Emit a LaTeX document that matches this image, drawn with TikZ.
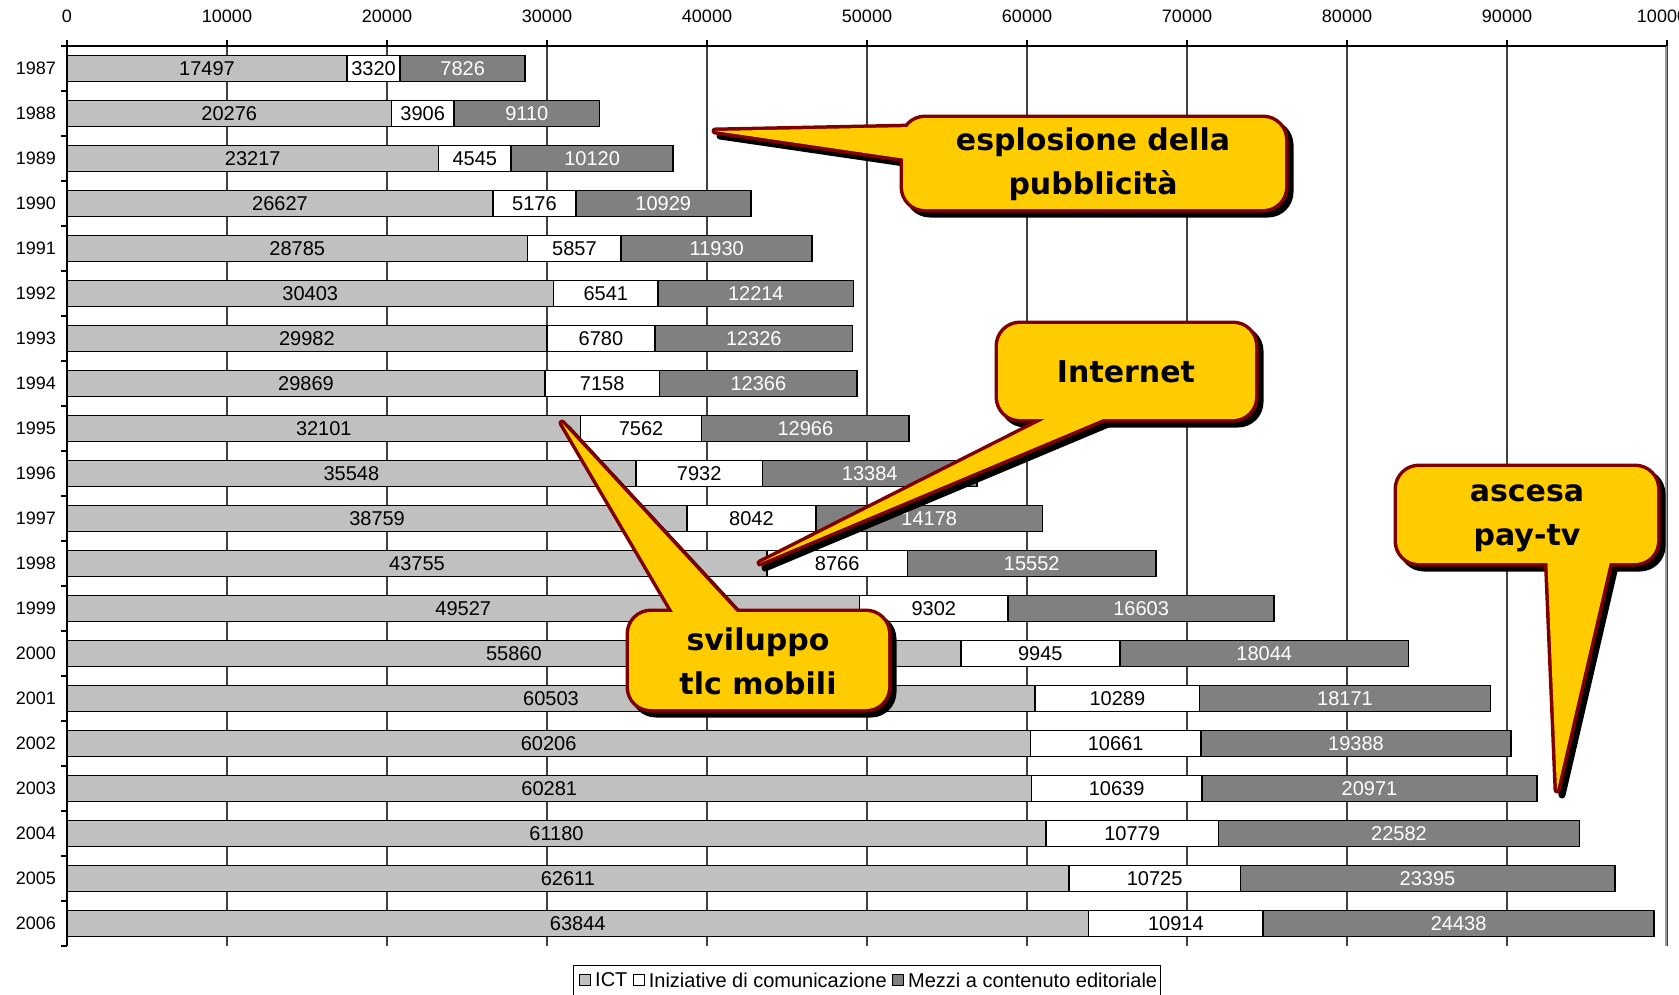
\documentclass[tikz,border=0pt]{standalone}
\usepackage{fontspec}
\setmainfont{Liberation Sans}
\newfontfamily\calloutfont{DejaVu Sans}
\usetikzlibrary{positioning}
\definecolor{ictgray}{HTML}{C0C0C0}
\definecolor{mezzigray}{HTML}{808080}
\definecolor{calloutyellow}{HTML}{FFCC00}
\definecolor{calloutred}{HTML}{800000}
\tikzset{
  segment/.style={draw=black, line width=1.6pt},
  ictseg/.style={segment, fill=ictgray},
  iniseg/.style={segment, fill=white},
  mezziseg/.style={segment, fill=mezzigray},
  barlabel/.style={inner sep=0pt, font=\fontsize{20}{22}\selectfont},
  axislabel/.style={inner sep=0pt, font=\fontsize{18}{20}\selectfont},
  legendlabel/.style={inner sep=0pt, font=\fontsize{20}{22}\selectfont},
  legendkey/.style={draw=black, line width=1pt, minimum size=11pt, inner sep=0pt},
  gridline/.style={draw=black!75, line width=1.2pt},
  axisline/.style={draw=black, line width=1.4pt},
  calloutshadow/.style={fill=black, draw=black, line width=7pt, line join=round},
  calloutedge/.style={draw=calloutred, line width=7pt, line join=round},
  calloutfill/.style={fill=calloutyellow},
  callouttext/.style={align=center, inner sep=0pt,
                      font=\calloutfont\fontsize{30}{44}\selectfont\bfseries}
}

\begin{document}
\begin{tikzpicture}[x=1pt, y=-1pt]
\clip (0,0) rectangle (1679,994);

% grid and axes
\foreach \k in {0,...,10}{
  \draw[gridline] (67+160*\k,46) -- (67+160*\k,946);
  \draw[axisline] (67+160*\k,40) -- (67+160*\k,46);
  \node[axislabel] (tick\k) at (67+160*\k,16) {\number\numexpr\k*10000\relax};
}
\draw[draw=black!40, line width=1.6pt] (1666,46) -- (1666,946);
\draw[axisline] (67,46) -- (1666,46);
\draw[axisline] (67,46) -- (67,946);
\foreach \k in {0,...,20}
  \draw[axisline] (61,46+45*\k) -- (67,46+45*\k);

% stacked bars
\foreach \yr/\a/\b/\c [count=\i from 0] in {
  1987/17497/3320/7826, 1988/20276/3906/9110, 1989/23217/4545/10120,
  1990/26627/5176/10929, 1991/28785/5857/11930, 1992/30403/6541/12214,
  1993/29982/6780/12326, 1994/29869/7158/12366, 1995/32101/7562/12966,
  1996/35548/7932/13384, 1997/38759/8042/14178, 1998/43755/8766/15552,
  1999/49527/9302/16603, 2000/55860/9945/18044, 2001/60503/10289/18171,
  2002/60206/10661/19388, 2003/60281/10639/20971, 2004/61180/10779/22582,
  2005/62611/10725/23395, 2006/63844/10914/24438}{
  \pgfmathsetmacro{\yc}{68.5+45*\i}
  \edef\xa{\fpeval{67+\a*0.016}}
  \edef\xb{\fpeval{67+(\a+\b)*0.016}}
  \edef\xc{\fpeval{67+(\a+\b+\c)*0.016}}
  \draw[ictseg] (67,\yc-13) rectangle (\xa,\yc+13);
  \draw[iniseg] (\xa,\yc-13) rectangle (\xb,\yc+13);
  \draw[mezziseg] (\xb,\yc-13) rectangle (\xc,\yc+13);
  \node[barlabel] (ict\yr) at ({(67+\xa)/2},\yc) {\a};
  \node[barlabel] (ini\yr) at ({(\xa+\xb)/2},\yc) {\b};
  \node[barlabel, text=white] (mez\yr) at ({(\xb+\xc)/2},\yc) {\c};
  \node[axislabel, anchor=east] (yr\yr) at (56,\yc) {\yr};
}

% callouts
\foreach \ax/\ay/\bx/\by/\tx/\ty/\px/\py/\qx/\qy in {
  903/118/1285/209/715/131/913/127/913/160,
  998/324/1255/419/760/563/1065/409/1127/409,
  629/612/888/709/562/423/679/622/746/622,
  1397/467/1657/563/1557/790/1547/553/1612/553}{
  \filldraw[calloutshadow, rounded corners=22pt, shift={(5,5)}] (\ax,\ay) rectangle (\bx,\by);
  \filldraw[calloutshadow, shift={(5,5)}] (\tx,\ty) -- (\px,\py) -- (\qx,\qy) -- cycle;
  \draw[calloutedge, rounded corners=22pt] (\ax,\ay) rectangle (\bx,\by);
  \draw[calloutedge] (\tx,\ty) -- (\px,\py) -- (\qx,\qy) -- cycle;
  \fill[calloutfill, rounded corners=22pt] (\ax,\ay) rectangle (\bx,\by);
  \fill[calloutfill] (\tx,\ty) -- (\px,\py) -- (\qx,\qy) -- cycle;
}
\node[callouttext] (boom) at (1093,164) {esplosione della\\pubblicità};
\node[callouttext] (web) at (1126,372) {Internet};
\node[callouttext] (mobile) at (758,661) {sviluppo\\tlc mobili};
\node[callouttext] (paytv) at (1527,518) {ascesa\\pay-tv};

% legend
\draw[line width=1pt] (573,965) rectangle (1160,1010);
\node[legendkey, fill=ictgray] (keyict) at (585,980) {};
\node[legendlabel, right=4pt of keyict] (txtict) {ICT};
\node[legendkey, fill=white, right=5pt of txtict] (keyini) {};
\node[legendlabel, right=4pt of keyini] (txtini) {Iniziative di comunicazione};
\node[legendkey, fill=mezzigray, right=5pt of txtini] (keymez) {};
\node[legendlabel, right=4pt of keymez] (txtmez) {Mezzi a contenuto editoriale};
\end{tikzpicture}
\end{document}
